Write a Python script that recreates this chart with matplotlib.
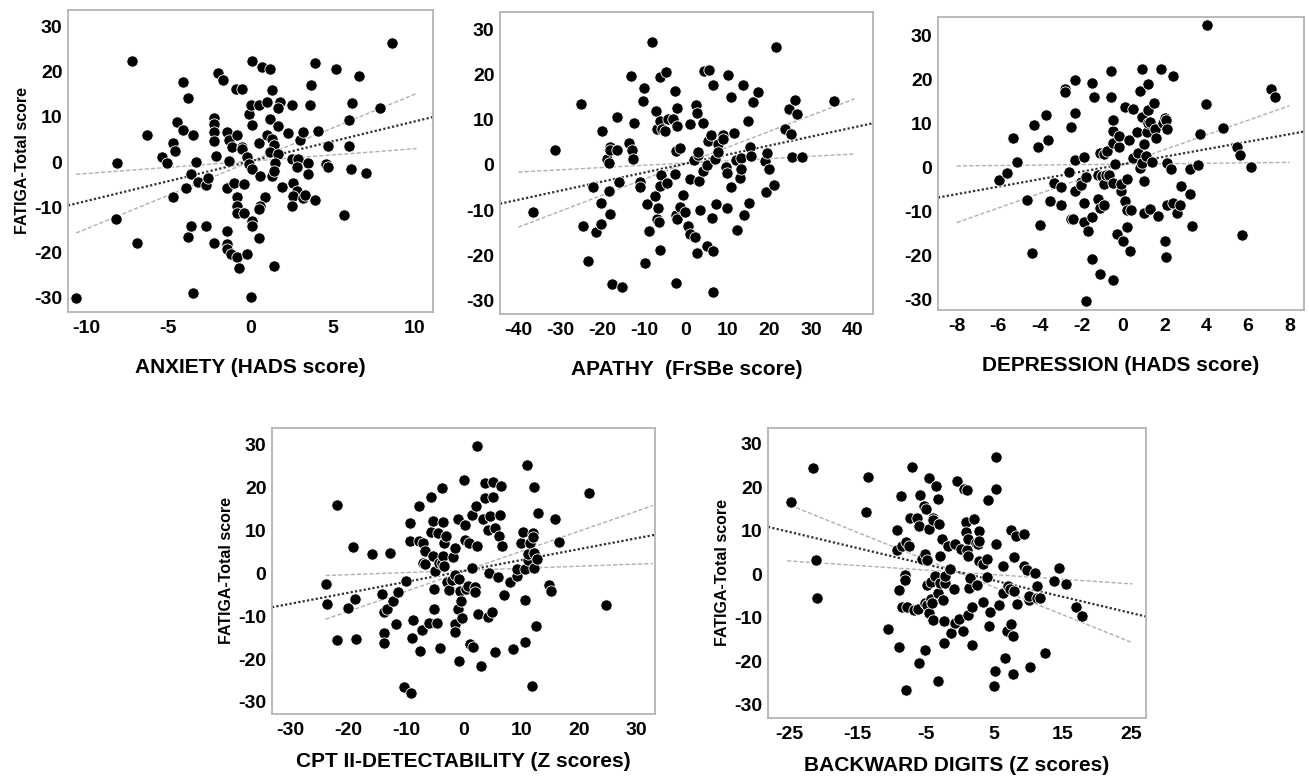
import matplotlib
matplotlib.use('Agg')
import matplotlib.pyplot as plt

plt.rcParams['font.family'] = ['Liberation Sans', 'DejaVu Sans']
plt.rcParams['font.weight'] = 'bold'
plt.rcParams['axes.unicode_minus'] = False  # hyphen minus like the original

# ---- ANXIETY (HADS score) ----
anx_x = [-10.6, -7.2, -8.1, -8.2, -6.9, -6.3, -5.4, -5.1, -4.7, -4.6, -4.5, -4.1, -4.1, -3.8, -4.7, -3.9,
         -3.6, -3.5, -3.3, -3.2, -2.7, -2.6, -3.8, -3.6, -2.7, -3.5, -2.2, -1.4, -1.4, -1.4, -1.2, -0.8,
         -0.7, -0.2, -2.0, -1.7, -2.2, -2.2, -2.2, -2.2, -2.1, -1.4, -1.3, -1.1, -0.8, -0.5, -0.5, -1.3,
         -0.9, -0.5, -1.4, -1.0, -0.4, -0.8, -0.8, -0.8, -0.4, -0.2, -0.1, 0.1, -0.1, 0.0, 0.1, 0.1,
         0.7, 1.2, 0.5, 1.0, 1.3, 1.8, 1.7, 1.2, 1.7, 0.5, 1.0, 1.3, 1.4, 1.2, 1.7, 0.6,
         1.3, 1.5, 1.4, 0.1, 0.1, 0.5, 0.9, 0.6, 0.5, 1.4, 0.0, 1.9, 2.3, 2.5, 2.5, 2.9,
         2.8, 2.6, 2.8, 2.6, 2.5, 3.2, 3.3, 3.0, 3.2, 3.5, 3.5, 3.9, 4.1, 3.6, 3.7, 3.9,
         4.6, 4.7, 4.7, 5.2, 5.7, 6.0, 6.0, 6.2, 6.1, 6.6, 7.0, 7.9, 8.6]
anx_y = [-30.0, 22.4, -0.1, -12.6, -17.9, 5.9, 1.1, -0.1, 4.2, 2.4, 8.9, 7.2, 17.8, 14.1, -7.8, -5.7,
         -2.6, 6.0, 0.0, -4.4, -5.0, -3.6, -16.5, -14.1, -14.1, -29.1, -17.9, -15.2, -18.1, -19.3, -20.4, -21.1,
         -23.4, -20.4, 19.8, 18.1, 9.8, 8.5, 6.7, 4.7, 1.3, 6.7, 4.8, 3.3, 6.1, 3.3, 2.8, 0.2,
         16.3, 16.3, -5.7, -4.7, -4.8, -7.8, -9.8, -11.3, -11.2, 1.1, -0.4, -1.5, 10.7, 12.6, 8.2, 22.3,
         21.1, 20.7, 12.7, 13.3, 15.9, 13.3, 12.1, 9.6, 8.1, 4.2, 5.9, 5.2, 3.9, 2.2, 1.9, -3.1,
         -3.0, -0.2, -2.0, -13.0, -14.2, -16.9, -7.8, -9.8, -10.4, -23.0, -29.9, -5.6, 6.4, 12.6, 0.7, 0.7,
         -1.0, -4.7, -6.4, -7.6, -9.7, -7.9, -7.3, 4.8, 6.6, -0.2, -2.7, -8.3, 6.9, 12.7, 17.0, 21.9,
         -0.5, -1.1, 3.6, 20.7, -11.7, 3.6, 9.3, 13.0, -1.5, 19.0, -2.4, 11.9, 26.5]
anx_fit_x = [-11.1, 11.1]
anx_fit_y = [-9.6, 10.0]
anx_lo_x = [-10.6, 10.1]
anx_lo_y = [-2.7, 3.0]
anx_hi_x = [-10.6, 10.1]
anx_hi_y = [-15.7, 15.2]

# ---- APATHY (FrSBe score) ----
apa_x = [-36.7, -31.3, -25.0, -24.7, -23.4, -22.2, -21.4, -20.3, -20.3, -20.0, -19.0, -18.4, -18.4, -18.2, -18.2, -18.2,
         -17.8, -16.6, -16.4, -16.0, -15.2, -13.6, -13.2, -12.9, -12.7, -12.4, -11.0, -11.0, -10.2, -10.1, -9.9, -9.3,
         -8.9, -8.1, -7.3, -7.1, -6.9, -7.0, -6.6, -6.5, -6.3, -6.2, -6.1, -5.9, -5.7, -4.9, -6.1, -4.8,
         -4.5, -4.3, -3.0, -2.6, -2.6, -2.4, -2.3, -2.2, -2.3, -2.2, -2.2, -1.5, -1.3, -0.6, -0.3, 0.6,
         0.9, 1.0, 1.0, 2.0, 2.2, 2.5, 2.6, 2.6, 2.8, 3.0, 3.1, 3.3, 4.1, 4.1, 4.4, 5.6,
         5.0, 5.1, 5.3, 5.9, 6.2, 6.4, 6.5, 6.6, 6.9, 7.1, 7.6, 7.7, 8.9, 8.9, 9.6, 9.9,
         9.9, 10.1, 10.7, 10.9, 11.5, 11.9, 12.3, 12.9, 13.2, 13.3, 13.6, 14.0, 14.8, 15.2, 15.3, 15.6,
         16.1, 17.2, 19.0, 19.1, 19.5, 19.9, 21.2, 21.5, 23.8, 24.6, 25.1, 25.3, 26.2, 26.6, 27.8, 35.4]
apa_y = [-10.5, 3.3, 13.4, -13.5, -21.3, -4.8, -14.9, -13.1, -8.5, 7.5, 1.3, 0.4, -5.9, -10.8, 4.0, 3.2,
         -26.3, 3.3, 10.6, -3.7, -27.0, 4.9, 19.6, 3.2, 1.3, 9.3, -3.7, -4.8, 14.1, 17.1, -21.8, -8.7,
         -14.7, 27.2, -6.8, 11.9, 8.0, -11.9, -9.6, -12.7, -18.9, 19.5, 9.7, -2.2, 7.9, 7.4, -4.6, 20.5,
         -4.0, 10.1, 10.1, 16.3, -2.1, 3.1, -11.0, -11.9, -26.2, 8.5, 12.6, 3.7, -9.3, -6.7, -10.4, -13.5,
         -15.4, -3.2, 9.0, 1.1, -16.0, 13.2, 11.4, -19.5, 2.2, 2.9, -3.5, -10.1, 9.2, -1.3, 20.8, 21.0,
         -18.0, 0.0, 5.3, 6.5, -11.8, 17.6, -28.2, -19.1, 1.3, -8.7, 4.6, 2.9, 6.5, 5.7, -0.4, -1.8,
         -9.6, 19.8, -4.8, 15.1, 7.0, 1.0, -14.5, -2.9, 1.5, -0.9, 17.6, -11.1, 9.7, -8.5, 3.9, 2.0,
         13.9, 16.2, 0.8, -6.0, 2.7, -1.0, -4.4, 26.0, 7.9, 12.3, 6.8, 1.8, 14.3, 11.3, 1.7, 14.2]
apa_fit_x = [-44.5, 44.8]
apa_fit_y = [-8.6, 9.2]
apa_lo_x = [-40.1, 40.4]
apa_lo_y = [-1.6, 2.4]
apa_hi_x = [-40.1, 40.4]
apa_hi_y = [-13.8, 14.6]

# ---- DEPRESSION (HADS score) ----
dep_x = [-5.95, -5.6, -5.3, -5.1, -4.6, -4.4, -4.3, -4.1, -4.0, -3.7, -3.6, -3.5, -3.3, -3.0, -3.0, -2.8,
         -2.8, -2.6, -2.5, -2.5, -2.4, -2.3, -2.3, -2.3, -2.3, -2.0, -2.0, -1.9, -1.9, -1.9, -1.8, -1.8,
         -1.7, -1.5, -1.5, -1.5, -1.4, -1.2, -1.2, -1.1, -1.1, -1.0, -1.1, -0.9, -0.9, -0.9, -0.8, -0.75,
         -0.7, -0.6, -0.6, -0.5, -0.5, -0.5, -0.5, -0.5, -0.4, -0.3, -0.2, -0.2, -0.1, -0.1, 0.0, 0.1,
         0.1, 0.2, 0.2, 0.2, 0.3, 0.35, 0.4, 0.5, 0.5, 0.65, 0.7, 0.8, 0.8, 0.9, 0.9, 0.9,
         1.0, 1.0, 1.0, 1.1, 1.15, 1.2, 1.2, 1.2, 1.3, 1.3, 1.4, 1.5, 1.55, 1.6, 1.7, 1.8,
         1.9, 2.0, 2.05, 2.1, 2.1, 2.1, 2.0, 2.05, 2.3, 2.4, 2.4, 2.6, 2.75, 2.8, 3.2, 3.2,
         3.3, 3.6, 3.7, 4.0, 4.05, 4.8, 5.5, 5.6, 5.7, 6.15, 7.1, 7.3]
dep_y = [-2.8, -1.1, 6.7, 1.4, -7.4, -19.4, 9.7, 4.8, -13.1, 12.1, 6.2, -7.5, -3.6, -4.3, -8.5, 17.9,
         17.3, -0.9, -11.6, 9.3, -11.6, 20.0, -5.3, 12.5, 1.7, -3.2, -4.0, 2.5, -8.0, -12.4, -2.1, -30.3,
         -14.4, -11.3, 19.2, -20.7, 16.0, -1.7, -7.2, -9.1, -24.2, -1.9, 3.4, 3.2, -3.8, -8.5, -1.7, 3.8,
         -1.7, 22.1, 16.1, 8.4, 5.7, -3.4, 10.9, -25.5, 0.8, -15.2, 4.6, 7.2, -5.3, -3.8, -16.6, 13.7,
         -7.6, -13.4, -2.5, -9.7, 6.2, -19.0, -9.7, 2.3, 13.3, 8.1, 3.4, 0.0, 17.5, 22.4, 11.6, 1.0,
         -3.0, -10.4, 5.3, 2.7, 8.2, 10.1, 19.0, 13.2, -9.3, 10.5, 1.3, 14.7, 8.7, 6.8, -11.0, 22.4,
         10.1, 11.4, 10.9, 8.8, 1.1, -8.4, -16.7, -20.3, -0.2, 20.8, -8.0, -10.4, -8.5, -4.2, -0.4, -5.9,
         -13.3, 0.5, 7.6, 14.6, 32.5, 9.0, 4.8, 2.9, -15.4, 0.2, 17.8, 16.1]
dep_fit_x = [-8.9, 8.8]
dep_fit_y = [-6.8, 8.3]
dep_lo_x = [-8.0, 8.0]
dep_lo_y = [0.4, 1.2]
dep_hi_x = [-8.0, 8.0]
dep_hi_y = [-12.5, 14.1]

# ---- CPT II-DETECTABILITY (Z scores) ----
cpt_x = [-23.9, -23.7, -22.0, -21.9, -20.0, -19.1, -18.8, -18.7, -15.8, -14.2, -13.8, -13.7, -13.7, -13.2, -12.7, -12.2,
         -11.7, -11.3, -10.4, -9.9, -9.2, -9.2, -9.1, -9.0, -8.8, -7.8, -7.7, -7.6, -7.2, -7.1, -7.0, -6.7,
         -6.6, -6.0, -5.7, -5.7, -5.3, -5.3, -5.2, -5.2, -5.0, -4.6, -4.4, -4.2, -4.0, -3.8, -3.7, -3.5,
         -3.5, -3.3, -3.3, -3.1, -2.9, -2.6, -2.0, -1.9, -1.5, -1.4, -1.4, -1.4, -1.0, -0.9, -0.8, -0.8,
         -0.6, -0.5, -0.3, 0.1, 0.2, 0.3, 0.5, 0.7, 0.9, 1.1, 1.4, 1.5, 1.7, 1.95, 1.95, 2.1,
         2.3, 2.35, 2.6, 3.0, 3.4, 3.8, 3.8, 4.3, 4.3, 4.5, 4.6, 4.9, 5.2, 5.2, 5.4, 5.4,
         5.9, 6.2, 6.4, 6.5, 6.7, 7.1, 8.0, 8.6, 9.2, 9.2, 9.9, 10.3, 10.6, 10.7, 10.7, 11.0,
         11.1, 11.2, 11.5, 11.8, 12.0, 12.1, 12.2, 12.3, 12.3, 12.5, 12.8, 13.0, 14.9, 15.2, 15.8, 16.5,
         21.8, 24.7]
cpt_y = [-2.5, -7.1, -15.5, 16.0, -8.1, 6.1, -6.0, -15.3, 4.4, -4.7, -14.0, -16.3, -9.0, -8.2, 4.8, -6.5,
         -11.7, -4.3, -26.4, -1.7, 11.8, 7.6, -27.8, -15.0, -10.9, 15.8, 7.5, -18.1, -13.2, 7.1, 2.5, 5.3,
         2.1, -11.5, 17.8, 9.6, 12.2, 4.0, -3.7, -8.2, 0.5, -11.5, 9.5, 2.3, -17.4, 19.8, 2.3, 11.9,
         4.0, 7.1, 1.6, 8.8, -1.9, -3.9, -1.6, 3.7, 5.8, -11.7, -13.7, -0.4, -8.4, 12.6, -1.2, -20.5,
         -4.0, -6.4, -10.5, 21.7, 11.2, 7.8, -3.7, -2.9, 7.0, -16.4, 13.6, 1.3, -17.1, -3.1, -4.3, 15.7,
         6.4, 29.7, -9.5, -21.5, 12.7, 21.0, 17.5, 10.1, -10.1, 0.0, 13.3, -9.1, 21.4, 17.8, 10.5, -18.3,
         -0.8, 8.8, 13.6, 20.4, 6.4, -5.0, -2.1, -17.6, -0.5, 1.1, 7.1, 9.6, -6.3, -16.0, 1.0, 25.3,
         3.0, 4.4, 7.1, -26.2, 9.3, 8.5, 4.8, 1.2, 20.2, -12.2, 3.3, 14.0, -2.8, -4.1, 12.6, 7.4,
         18.7, -7.4]
cpt_fit_x = [-33.2, 33.2]
cpt_fit_y = [-7.9, 9.0]
cpt_lo_x = [-23.9, 32.8]
cpt_lo_y = [-0.5, 2.3]
cpt_hi_x = [-23.9, 32.8]
cpt_hi_y = [-10.7, 15.8]

# ---- BACKWARD DIGITS (Z scores) ----
bwd_x = [-24.8, -21.5, -21.1, -21.0, -13.8, -13.4, -10.5, -9.2, -9.2, -8.9, -8.9, -8.7, -8.5, -8.5, -8.0, -8.0,
         -7.9, -7.9, -7.7, -7.5, -7.3, -7.0, -6.7, -6.3, -6.2, -6.0, -6.0, -5.8, -5.5, -5.3, -5.2, -5.2,
         -5.1, -5.0, -4.9, -4.8, -4.8, -4.6, -4.6, -4.5, -4.3, -4.2, -4.1, -4.0, -3.9, -3.9, -3.7, -3.5,
         -3.3, -3.2, -3.2, -3.1, -3.0, -2.9, -2.5, -2.6, -2.3, -2.3, -2.2, -2.2, -1.8, -1.5, -1.4, -0.9,
         -0.8, -0.7, -0.4, -0.2, 0.2, 0.5, 0.6, 0.8, 0.8, 1.0, 1.0, 1.1, 1.1, 1.2, 1.3, 1.5,
         1.8, 1.8, 2.0, 2.4, 2.6, 2.5, 2.8, 2.8, 2.8, 3.3, 3.4, 3.9, 4.0, 4.1, 4.2, 4.4,
         5.1, 5.0, 5.2, 5.3, 5.3, 5.7, 6.3, 6.3, 6.6, 6.8, 7.0, 7.3, 7.4, 7.5, 7.8, 7.8,
         7.9, 7.95, 8.2, 8.3, 9.3, 9.3, 9.8, 10.1, 10.1, 10.2, 10.9, 11.2, 11.3, 11.7, 12.4, 13.8,
         14.4, 15.5, 17.0, 17.9]
bwd_y = [16.6, 24.5, 3.3, -5.4, 14.3, 22.4, -12.6, 10.2, 5.5, -3.7, -16.7, 17.9, 6.5, -7.5, -0.2, -1.4,
         -26.6, 7.4, -7.5, 6.6, 13.0, 24.6, -8.1, 13.0, -8.0, 11.2, -20.4, 18.2, 3.6, 15.6, 4.7, -6.7,
         -17.3, 14.9, -7.1, 3.4, -2.5, 10.5, -9.0, 22.2, -5.7, -1.8, -6.7, 13.0, -10.4, 12.4, -0.4, 20.3,
         17.4, -4.4, -24.5, 11.6, 4.1, -2.1, -5.8, 8.1, -10.8, -15.7, -2.1, -0.5, 6.4, 1.2, -13.4, -3.3,
         -11.2, 7.0, 21.5, -10.3, 5.7, -13.0, 19.6, 11.9, 9.7, 19.4, 5.5, 8.2, -9.3, 4.3, -3.1, -0.8,
         -16.3, -7.6, 12.6, 7.3, 6.9, -2.4, 9.9, 7.6, 3.1, 2.4, -6.3, -0.7, 3.6, 17.0, -11.9, -8.6,
         -22.2, -25.6, 6.9, 19.6, 26.9, -7.1, 1.9, -4.2, -19.3, -13.0, -2.7, -3.4, -11.5, 10.2, -22.8, -14.2,
         -3.8, 4.0, 8.9, -6.9, 9.2, 1.9, 1.1, -5.8, -5.0, -21.3, 0.2, -2.6, -5.4, -5.4, -18.0, -1.5,
         1.5, -2.3, -7.5, -9.6]
bwd_fit_x = [-28.1, 27.2]
bwd_fit_y = [10.9, -9.7]
bwd_lo_x = [-25.3, 25.2]
bwd_lo_y = [3.1, -2.2]
bwd_hi_x = [-24.8, 25.2]
bwd_hi_y = [15.8, -15.7]

W, H = 1309, 778
fig = plt.figure(figsize=(W / 100, H / 100), dpi=100)


def panel(box, xs, ys, fit, lo, hi, xlim, ylim, xticks, xlabel, ylabel=True, xpad=15):
    left, top, right, bottom = box
    ax = fig.add_axes([left / W, 1 - bottom / H, (right - left) / W, (bottom - top) / H])
    # interval lines (grey dashes) and fit line (dark dots)
    ax.plot(lo[0], lo[1], color='#b0b0b0', lw=1.0, ls=(0, (3, 1.5)), zorder=1)
    ax.plot(hi[0], hi[1], color='#b0b0b0', lw=1.0, ls=(0, (3, 1.5)), zorder=1)
    ax.plot(fit[0], fit[1], color='#303030', lw=1.6, ls=(0, (1, 1)), zorder=1)
    ax.scatter(xs, ys, s=66, c='black', edgecolors='white', linewidths=0.6, zorder=3)
    ax.set_xlim(*xlim)
    ax.set_ylim(*ylim)
    ax.set_xticks(xticks)
    ax.set_yticks([-30, -20, -10, 0, 10, 20, 30])
    ax.tick_params(length=0, labelsize=14, pad=6)
    ax.tick_params(axis='y', pad=4)
    for lab in ax.get_xticklabels() + ax.get_yticklabels():
        lab.set_fontweight('bold')
    for sp in ax.spines.values():
        sp.set_color('#b4b4b4')
        sp.set_linewidth(1.3)
    ax.set_xlabel(xlabel, fontsize=15, fontweight='bold', labelpad=xpad)
    if ylabel:
        ax.set_ylabel('FATIGA-Total score', fontsize=11.5, fontweight='bold', labelpad=3)
    return ax


panel((68, 10, 433, 312), anx_x, anx_y, (anx_fit_x, anx_fit_y), (anx_lo_x, anx_lo_y), (anx_hi_x, anx_hi_y),
      (-11.1, 11.1), (-33.2, 33.7), [-10, -5, 0, 5, 10], 'ANXIETY (HADS score)')
panel((500, 12, 873, 314), apa_x, apa_y, (apa_fit_x, apa_fit_y), (apa_lo_x, apa_lo_y), (apa_hi_x, apa_hi_y),
      (-44.5, 44.8), (-33.0, 33.8), list(range(-40, 41, 10)), 'APATHY  (FrSBe score)', ylabel=False)
panel((938, 17, 1304, 310), dep_x, dep_y, (dep_fit_x, dep_fit_y), (dep_lo_x, dep_lo_y), (dep_hi_x, dep_hi_y),
      (-8.9, 8.7), (-32.4, 34.3), list(range(-8, 9, 2)), 'DEPRESSION (HADS score)', ylabel=False)
panel((272, 428, 655, 714), cpt_x, cpt_y, (cpt_fit_x, cpt_fit_y), (cpt_lo_x, cpt_lo_y), (cpt_hi_x, cpt_hi_y),
      (-33.2, 33.2), (-32.8, 33.9), list(range(-30, 31, 10)), 'CPT II-DETECTABILITY (Z scores)', xpad=9)
panel((768, 428, 1146, 718), bwd_x, bwd_y, (bwd_fit_x, bwd_fit_y), (bwd_lo_x, bwd_lo_y), (bwd_hi_x, bwd_hi_y),
      (-28.1, 27.2), (-33.0, 33.6), list(range(-25, 26, 10)), 'BACKWARD DIGITS (Z scores)', xpad=9)

fig.savefig('out.png', dpi=100, facecolor='white')
